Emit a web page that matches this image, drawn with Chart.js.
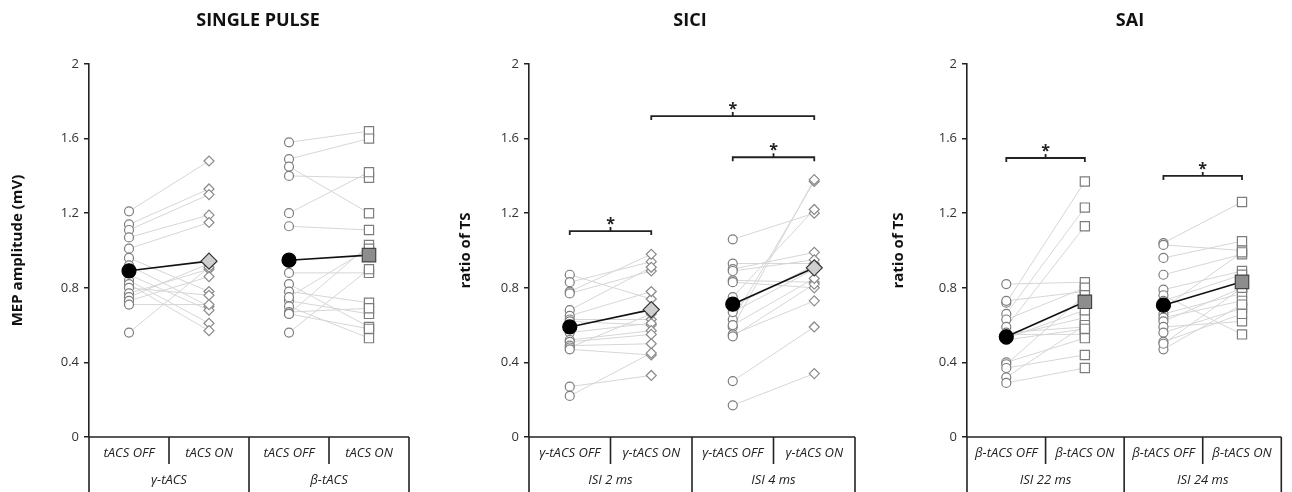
<!DOCTYPE html>
<html>
<head>
<meta charset="utf-8">
<script src="https://cdn.jsdelivr.net/npm/chart.js@4.4.1/dist/chart.umd.min.js"></script>
<style>
  html, body { margin: 0; padding: 0; background: #fff; }
  #wrap { position: relative; width: 1292px; height: 492px; overflow: hidden; }
  #wrap canvas { position: absolute; top: 0; }
</style>
</head>
<body>
<div id="wrap">
  <canvas id="p1" width="440" height="492" style="left:0px"></canvas>
  <canvas id="p2" width="430" height="492" style="left:440px"></canvas>
  <canvas id="p3" width="422" height="492" style="left:870px"></canvas>
</div>
<script>
// ---- data ----
const yTicks = [0, 0.4, 0.8, 1.2, 1.6, 2];

// SINGLE PULSE
const spTitle = 'SINGLE PULSE';
const spYLabel = 'MEP amplitude (mV)';
const spCats = ['tACS OFF', 'tACS ON', 'tACS OFF', 'tACS ON'];
const spGroups = ['γ-tACS', 'β-tACS'];
const spGammaOff = [1.21, 1.14, 1.11, 1.07, 1.01, 0.96, 0.92, 0.87, 0.84, 0.82, 0.80, 0.77, 0.75, 0.73, 0.71, 0.56];
const spGammaOn  = [1.48, 1.33, 1.30, 1.19, 1.15, 0.78, 0.70, 0.68, 0.61, 0.57, 0.76, 0.90, 0.93, 0.86, 0.71, 0.91];
const spBetaOff  = [1.58, 1.49, 1.45, 1.40, 1.20, 1.13, 0.88, 0.82, 0.78, 0.73, 0.70, 0.67, 0.66, 0.66, 0.56, 0.75];
const spBetaOn   = [1.64, 1.60, 1.20, 1.39, 1.42, 1.11, 0.88, 0.59, 0.72, 0.66, 0.53, 0.69, 0.58, 1.03, 0.90, 1.01];
const spMeans = [0.891, 0.943, 0.948, 0.975];
const spSig = [];

// SICI
const siciTitle = 'SICI';
const siciYLabel = 'ratio of TS';
const siciCats = ['γ-tACS OFF', 'γ-tACS ON', 'γ-tACS OFF', 'γ-tACS ON'];
const siciGroups = ['ISI 2 ms', 'ISI 4 ms'];
const siciIsi2Off = [0.87, 0.83, 0.78, 0.77, 0.68, 0.65, 0.63, 0.62, 0.56, 0.52, 0.51, 0.49, 0.48, 0.47, 0.27, 0.22];
const siciIsi2On  = [0.74, 0.94, 0.98, 0.89, 0.91, 0.78, 0.63, 0.60, 0.61, 0.57, 0.55, 0.50, 0.66, 0.44, 0.33, 0.45];
const siciIsi4Off = [1.06, 0.93, 0.90, 0.89, 0.84, 0.83, 0.75, 0.70, 0.63, 0.59, 0.55, 0.54, 0.60, 0.67, 0.30, 0.17];
const siciIsi4On  = [1.20, 0.93, 0.99, 0.95, 0.83, 0.80, 1.22, 0.92, 1.37, 1.38, 0.73, 0.82, 0.85, 0.90, 0.59, 0.34];
const siciMeans = [0.590, 0.683, 0.712, 0.907];
const siciSig = [[1, 2, 1.104], [2, 4, 1.721], [3, 4, 1.50]];

// SAI
const saiTitle = 'SAI';
const saiYLabel = 'ratio of TS';
const saiCats = ['β-tACS OFF', 'β-tACS ON', 'β-tACS OFF', 'β-tACS ON'];
const saiGroups = ['ISI 22 ms', 'ISI 24 ms'];
const saiIsi22Off = [0.82, 0.72, 0.73, 0.66, 0.63, 0.59, 0.56, 0.55, 0.54, 0.53, 0.40, 0.39, 0.37, 0.32, 0.29, 0.52];
const saiIsi22On  = [0.83, 1.37, 0.78, 1.23, 0.80, 1.13, 0.59, 0.55, 0.64, 0.68, 0.53, 0.76, 0.44, 0.60, 0.37, 0.58];
const saiIsi24Off = [1.04, 1.03, 0.96, 0.87, 0.79, 0.76, 0.73, 0.69, 0.66, 0.64, 0.62, 0.59, 0.56, 0.51, 0.47, 0.50];
const saiIsi24On  = [1.26, 1.00, 1.05, 0.98, 0.89, 0.55, 0.87, 0.99, 0.77, 0.73, 0.80, 0.62, 0.69, 0.66, 0.71, 0.80];
const saiMeans = [0.537, 0.725, 0.707, 0.832];
const saiSig = [[1, 2, 1.496], [3, 4, 1.40]];

const FONT = '"Open Sans", "Noto Sans", sans-serif';
const INK = '#222';

function line(ctx, x1, y1, x2, y2) {
  ctx.beginPath(); ctx.moveTo(x1, y1); ctx.lineTo(x2, y2); ctx.stroke();
}

// category table under the plot (two rows, boxed like the original)
const tablePlugin = {
  id: 'catTable',
  afterDraw(chart, args, opts) {
    const { ctx, chartArea: a, scales: { x } } = chart;
    const h = chart.height;
    const edge = v => x.getPixelForValue(v);
    ctx.save();
    ctx.strokeStyle = INK;
    ctx.lineWidth = 1.6;
    line(ctx, a.left, a.bottom, a.right, a.bottom);
    line(ctx, a.left, a.bottom, a.left, h);
    line(ctx, edge(1.5), a.bottom, edge(1.5), a.bottom + 27);
    line(ctx, edge(3.5), a.bottom, edge(3.5), a.bottom + 27);
    line(ctx, edge(2.5), a.bottom, edge(2.5), h);
    line(ctx, edge(4.5), a.bottom, edge(4.5), h);
    ctx.fillStyle = INK;
    ctx.textAlign = 'center';
    ctx.textBaseline = 'middle';
    ctx.font = 'italic 13px ' + FONT;
    opts.cats.forEach((c, i) => ctx.fillText(c, edge(i + 1), a.bottom + 16));
    opts.groups.forEach((g, i) => ctx.fillText(g, edge(2 * i + 1.5), a.bottom + 43));
    ctx.restore();
  }
};

// significance brackets with stars
const sigPlugin = {
  id: 'sigBrackets',
  afterDatasetsDraw(chart, args, opts) {
    const { ctx, scales: { x, y } } = chart;
    ctx.save();
    ctx.strokeStyle = INK;
    ctx.fillStyle = INK;
    ctx.lineWidth = 1.8;
    ctx.textAlign = 'center';
    ctx.textBaseline = 'alphabetic';
    ctx.font = 'bold 16px ' + FONT;
    (opts.items || []).forEach(([x1, x2, v]) => {
      const px1 = x.getPixelForValue(x1), px2 = x.getPixelForValue(x2);
      const py = y.getPixelForValue(v);
      const mid = (px1 + px2) / 2;
      ctx.beginPath();
      ctx.moveTo(px1, py + 4); ctx.lineTo(px1, py); ctx.lineTo(px2, py); ctx.lineTo(px2, py + 4);
      ctx.moveTo(mid, py); ctx.lineTo(mid, py - 4);
      ctx.stroke();
      ctx.fillText('*', mid, py - 2);
    });
    ctx.restore();
  }
};

const panelTitle = {
  id: 'panelTitle',
  afterDraw(chart, args, opts) {
    const { ctx } = chart;
    ctx.save();
    ctx.fillStyle = '#111';
    ctx.font = 'bold 18px ' + FONT;
    ctx.textAlign = 'center';
    ctx.textBaseline = 'middle';
    ctx.fillText(opts.text, opts.x, 21);
    ctx.restore();
  }
};

const markerStyle = {
  off:     { pointStyle: 'circle',  radius: 4.5, fill: '#fff', stroke: '#7d7d7d' },
  diamond: { pointStyle: 'rectRot', radius: 5,   fill: '#fff', stroke: '#8a8a8a' },
  square:  { pointStyle: 'rect',    radius: 6.5, fill: '#fff', stroke: '#7d7d7d' },
};
const meanStyle = {
  off:     { pointStyle: 'circle',  radius: 7,   fill: '#000',    stroke: '#000' },
  diamond: { pointStyle: 'rectRot', radius: 8,   fill: '#cfcfcf', stroke: '#333' },
  square:  { pointStyle: 'rect',    radius: 9.5, fill: '#8d8d8d', stroke: '#444' },
};

function scatterSet(xv, vals, st, order) {
  return {
    type: 'scatter',
    data: vals.map(v => ({ x: xv, y: v })),
    pointStyle: st.pointStyle,
    pointRadius: st.radius,
    pointBackgroundColor: st.fill,
    pointBorderColor: st.stroke,
    pointBorderWidth: 1.2,
    order
  };
}

// one OFF/ON pair: subject lines, subject markers, mean line, mean markers
function pairSets(xOff, off, on, onKind, meanOff, meanOn) {
  const sets = [];
  off.forEach((v, i) => {
    sets.push({
      type: 'line',
      data: [{ x: xOff, y: v }, { x: xOff + 1, y: on[i] }],
      borderColor: '#d6d6d6',
      borderWidth: 1,
      pointRadius: 0,
      order: 5
    });
  });
  sets.push(scatterSet(xOff, off, markerStyle.off, 4));
  sets.push(scatterSet(xOff + 1, on, markerStyle[onKind], 4));
  sets.push({
    type: 'line',
    data: [{ x: xOff, y: meanOff }, { x: xOff + 1, y: meanOn }],
    borderColor: '#111',
    borderWidth: 1.6,
    pointRadius: 0,
    order: 2
  });
  sets.push(scatterSet(xOff, [meanOff], meanStyle.off, 1));
  sets.push(scatterSet(xOff + 1, [meanOn], meanStyle[onKind], 1));
  return sets;
}

function makePanel(id, p) {
  const canvas = document.getElementById(id);
  const width = canvas.width;
  return new Chart(canvas.getContext('2d'), {
    type: 'scatter',
    data: { datasets: p.datasets },
    options: {
      responsive: false,
      animation: false,
      events: [],
      layout: { padding: { left: 0, right: width - p.right, top: 64, bottom: 55 } },
      plugins: {
        legend: { display: false },
        tooltip: { enabled: false },
        catTable: { cats: p.cats, groups: p.groups },
        sigBrackets: { items: p.sig },
        panelTitle: { text: p.title, x: p.titleX }
      },
      scales: {
        x: { type: 'linear', min: 0.5, max: 4.5, display: false },
        y: {
          min: 0, max: 2,
          afterBuildTicks: s => { s.ticks = yTicks.map(v => ({ value: v })); },
          afterFit: s => { s.width = p.axisX; },
          ticks: {
            color: '#333',
            padding: 5,
            font: { family: FONT, size: 13 },
            callback: v => String(v)
          },
          grid: { drawOnChartArea: false, tickLength: 5, color: INK, lineWidth: 1.5 },
          border: { color: INK, width: 1.6 },
          title: {
            display: true,
            text: p.yLabel,
            color: '#111',
            font: { family: FONT, size: 15, weight: 'bold' },
            padding: { top: p.yTitlePad, bottom: 0 }
          }
        }
      }
    },
    plugins: [tablePlugin, sigPlugin, panelTitle]
  });
}

makePanel('p1', {
  title: spTitle, titleX: 258, yLabel: spYLabel, yTitlePad: 9,
  axisX: 89, right: 409, cats: spCats, groups: spGroups, sig: spSig,
  datasets: [
    ...pairSets(1, spGammaOff, spGammaOn, 'diamond', spMeans[0], spMeans[1]),
    ...pairSets(3, spBetaOff, spBetaOn, 'square', spMeans[2], spMeans[3])
  ]
});

makePanel('p2', {
  title: siciTitle, titleX: 250, yLabel: siciYLabel, yTitlePad: 17,
  axisX: 89, right: 415, cats: siciCats, groups: siciGroups, sig: siciSig,
  datasets: [
    ...pairSets(1, siciIsi2Off, siciIsi2On, 'diamond', siciMeans[0], siciMeans[1]),
    ...pairSets(3, siciIsi4Off, siciIsi4On, 'diamond', siciMeans[2], siciMeans[3])
  ]
});

makePanel('p3', {
  title: saiTitle, titleX: 260, yLabel: saiYLabel, yTitlePad: 20,
  axisX: 97, right: 422, cats: saiCats, groups: saiGroups, sig: saiSig,
  datasets: [
    ...pairSets(1, saiIsi22Off, saiIsi22On, 'square', saiMeans[0], saiMeans[1]),
    ...pairSets(3, saiIsi24Off, saiIsi24On, 'square', saiMeans[2], saiMeans[3])
  ]
});
</script>
</body>
</html>
